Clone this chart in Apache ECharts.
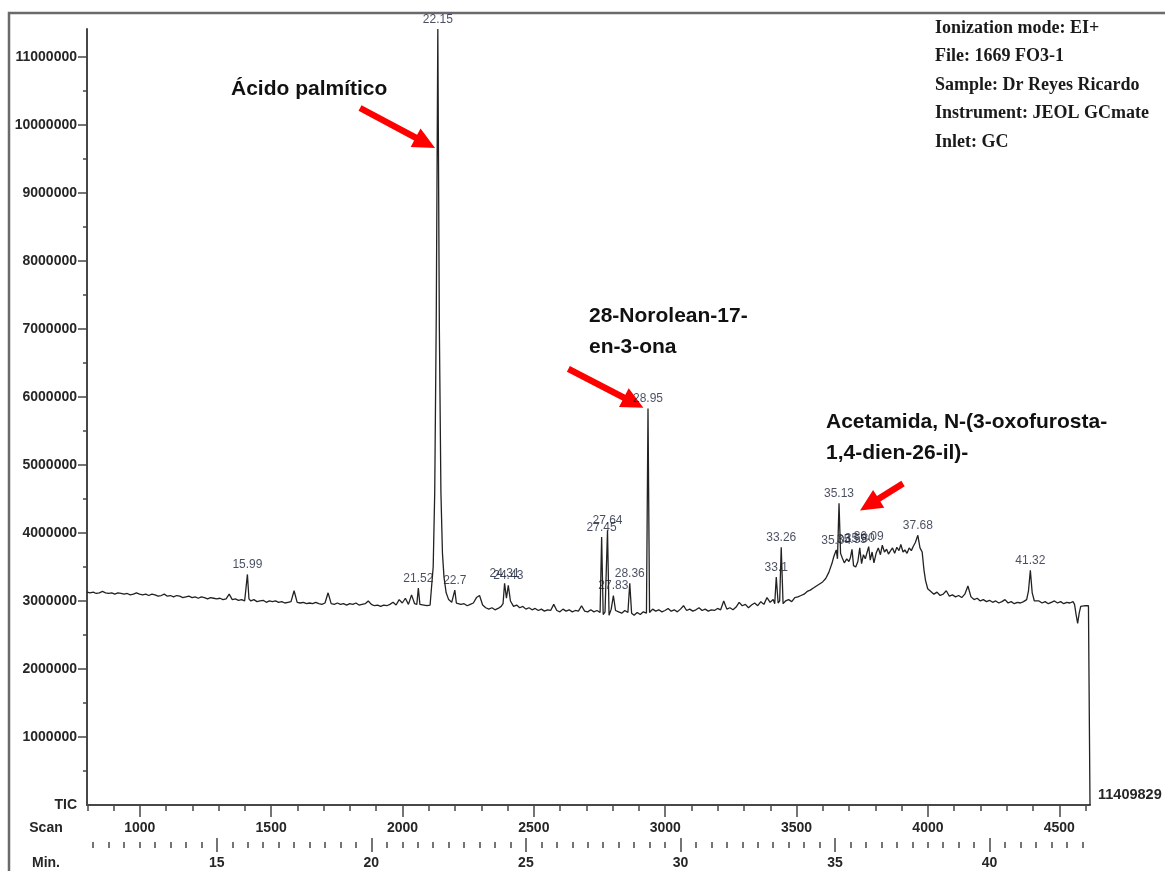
<!DOCTYPE html>
<html>
<head>
<meta charset="utf-8">
<title>TIC 1669 FO3-1</title>
<script src="https://cdn.jsdelivr.net/npm/echarts@6/dist/echarts.min.js"></script>
<style>
  html, body { margin: 0; padding: 0; background: #ffffff; }
  #chart { width: 1165px; height: 871px; }
</style>
</head>
<body>
<div id="chart"></div>
<script>
// Total ion current, full scale in counts
const fullScale = 11409829;

// Chromatogram trace: [retention time (min), intensity (millions of counts)]
const trace = [
  [10.8,3.13],[10.9,3.12],
  [11.0,3.13],[11.1,3.11],[11.2,3.12],[11.3,3.14],[11.4,3.12],[11.5,3.11],[11.6,3.12],[11.7,3.10],[11.8,3.12],[11.9,3.11],
  [12.0,3.10],[12.1,3.11],[12.2,3.09],[12.3,3.10],[12.4,3.12],[12.5,3.10],[12.6,3.09],[12.7,3.10],[12.8,3.08],[12.9,3.10],
  [13.0,3.09],[13.1,3.07],[13.2,3.08],[13.3,3.10],[13.4,3.07],[13.5,3.08],[13.6,3.06],[13.7,3.08],[13.8,3.07],[13.9,3.05],
  [14.0,3.06],[14.1,3.07],[14.2,3.05],[14.3,3.06],[14.4,3.04],[14.5,3.06],[14.6,3.05],[14.7,3.03],[14.8,3.05],[14.9,3.04],
  [15.0,3.03],[15.1,3.04],[15.2,3.02],[15.3,3.03],[15.4,3.10],[15.5,3.02],[15.6,3.03],[15.7,3.01],[15.8,3.02],[15.9,3.00],
  [15.95,3.02],[15.99,3.39],[16.04,3.03],
  [16.1,3.00],[16.2,3.02],[16.3,2.99],[16.4,3.00],[16.5,3.01],[16.6,2.98],[16.7,3.00],[16.8,2.99],[16.9,3.00],
  [17.0,2.98],[17.1,2.99],[17.2,2.97],[17.3,2.98],[17.4,2.99],[17.5,3.15],[17.6,2.98],[17.7,2.97],[17.8,2.98],[17.9,2.96],
  [18.0,2.97],[18.1,2.96],[18.2,2.98],[18.3,2.96],[18.4,2.95],[18.5,2.97],[18.6,3.12],[18.7,2.96],[18.8,2.95],[18.9,2.97],
  [19.0,2.95],[19.1,2.96],[19.2,2.94],[19.3,2.96],[19.4,2.95],[19.5,2.97],[19.6,2.94],[19.7,2.95],[19.8,2.96],[19.9,3.00],
  [20.0,2.95],[20.1,2.93],[20.2,2.94],[20.3,2.92],[20.4,2.94],[20.5,2.93],[20.6,2.95],[20.7,2.98],[20.8,2.94],[20.9,3.02],
  [21.0,2.97],[21.1,3.04],[21.2,2.95],[21.3,3.09],[21.4,2.96],[21.47,2.95],[21.52,3.19],[21.57,2.95],[21.7,2.94],[21.8,2.93],[21.9,2.94],
  [21.96,2.95],[22.0,3.5],[22.05,4.6],[22.1,7.2],[22.15,11.409829],[22.2,7.0],[22.25,4.6],[22.3,3.7],[22.35,3.35],[22.42,3.12],
  [22.5,3.02],[22.6,2.98],[22.65,2.96],[22.7,3.16],[22.75,2.97],[22.8,2.96],[22.9,2.95],
  [23.0,2.96],[23.1,2.93],[23.2,2.95],[23.3,2.97],[23.4,3.05],[23.5,3.08],[23.6,2.94],[23.7,2.90],[23.8,2.88],[23.9,2.90],
  [24.0,2.87],[24.1,2.89],[24.2,2.92],[24.26,2.96],[24.31,3.26],[24.37,3.04],[24.43,3.23],[24.5,3.00],[24.6,2.92],[24.7,2.94],[24.8,2.90],[24.9,2.92],
  [25.0,2.88],[25.1,2.90],[25.2,2.87],[25.3,2.89],[25.4,2.86],[25.5,2.88],[25.6,2.85],[25.7,2.87],[25.8,2.86],[25.9,2.95],
  [26.0,2.86],[26.1,2.84],[26.2,2.88],[26.3,2.85],[26.4,2.87],[26.5,2.84],[26.6,2.86],[26.7,2.85],[26.8,2.93],[26.9,2.85],
  [27.0,2.84],[27.1,2.87],[27.2,2.84],[27.3,2.86],[27.4,2.83],[27.45,3.94],[27.5,2.80],[27.56,2.84],[27.6,2.82],[27.64,4.04],
  [27.69,2.79],[27.76,2.88],[27.83,3.08],[27.9,2.86],
  [28.0,2.84],[28.1,2.82],[28.2,2.86],[28.3,2.83],[28.36,3.26],[28.42,2.82],[28.5,2.79],[28.6,2.83],[28.7,2.80],[28.8,2.84],
  [28.9,2.82],[28.95,5.83],[29.0,2.83],
  [29.1,2.88],[29.2,2.85],[29.3,2.87],[29.4,2.84],[29.5,2.86],[29.6,2.89],[29.7,2.85],[29.8,2.87],[29.9,2.84],
  [30.0,2.88],[30.1,2.93],[30.2,2.86],[30.3,2.88],[30.4,2.85],[30.5,2.87],[30.6,2.90],[30.7,2.86],[30.8,2.88],[30.9,2.85],
  [31.0,2.87],[31.1,2.86],[31.2,2.89],[31.3,2.87],[31.4,3.00],[31.5,2.88],[31.6,2.90],[31.7,2.87],[31.8,2.91],[31.9,2.98],
  [32.0,2.93],[32.1,2.95],[32.2,2.90],[32.3,2.94],[32.4,2.97],[32.5,2.93],[32.6,2.99],[32.7,2.95],[32.8,3.05],[32.9,2.98],
  [33.0,3.02],[33.05,2.96],[33.1,3.35],[33.16,2.97],[33.21,3.00],[33.26,3.79],[33.32,2.96],[33.4,3.00],[33.5,3.02],[33.6,2.99],
  [33.7,3.05],[33.8,3.06],[33.9,3.08],
  [34.0,3.10],[34.1,3.14],[34.2,3.16],[34.3,3.19],[34.4,3.22],[34.5,3.25],[34.6,3.28],[34.7,3.33],[34.8,3.42],[34.9,3.55],[34.96,3.65],
  [35.04,3.75],[35.08,3.62],[35.13,4.435],[35.18,3.70],[35.23,3.64],[35.3,3.56],[35.38,3.62],[35.45,3.58],[35.5,3.64],[35.55,3.76],
  [35.6,3.52],[35.67,3.50],[35.74,3.58],[35.8,3.78],[35.86,3.55],[35.92,3.68],[35.98,3.62],[36.04,3.60],[36.09,3.80],[36.14,3.60],
  [36.2,3.72],[36.26,3.56],[36.33,3.70],[36.4,3.78],[36.47,3.68],[36.53,3.82],[36.6,3.72],[36.67,3.76],[36.73,3.69],[36.8,3.74],
  [36.86,3.78],[36.93,3.70],[37.0,3.79],[37.07,3.74],[37.13,3.83],[37.2,3.72],[37.26,3.75],[37.33,3.70],[37.4,3.78],[37.47,3.74],
  [37.53,3.80],[37.6,3.86],[37.68,3.965],[37.75,3.78],[37.82,3.72],[37.88,3.45],[37.93,3.30],
  [38.0,3.18],[38.1,3.14],[38.2,3.10],[38.3,3.13],[38.4,3.08],[38.5,3.10],[38.6,3.15],[38.7,3.07],[38.8,3.09],[38.9,3.06],
  [39.0,3.08],[39.1,3.05],[39.2,3.10],[39.3,3.22],[39.4,3.06],[39.5,3.02],[39.6,3.04],[39.7,3.00],[39.8,3.02],[39.9,2.99],
  [40.0,3.01],[40.1,2.98],[40.2,3.00],[40.3,2.97],[40.4,2.99],[40.5,3.02],[40.6,2.97],[40.7,2.99],[40.8,2.96],[40.9,2.98],
  [41.0,2.97],[41.1,2.99],[41.2,3.02],[41.26,3.15],[41.32,3.45],[41.38,3.12],[41.45,3.00],[41.5,2.98],[41.6,3.00],[41.7,2.97],
  [41.8,2.99],[41.9,2.96],[42.0,2.98],[42.1,3.00],[42.2,2.97],[42.3,2.99],[42.4,2.96],[42.5,2.98],[42.6,2.97],[42.7,2.99],
  [42.75,2.95],[42.8,2.80],[42.85,2.67],[42.9,2.82],[42.95,2.92],[43.0,2.93],[43.1,2.93],[43.2,2.93],[43.25,2.93],[43.25,0]
];

// Peaks annotated with their retention time
const peakTimes  = [15.99, 21.52, 22.15, 22.7, 24.31, 24.43, 27.45, 27.64, 27.83, 28.36, 28.95, 33.1, 33.26, 35.04, 35.13, 35.55, 35.8, 36.09, 37.68, 41.32];
const peakLabels = ['15.99','21.52','22.15','22.7','24.31','24.43','27.45','27.64','27.83','28.36','28.95','33.1','33.26','35.04','35.13','35.55','35.80','36.09','37.68','41.32'];

// Axis ranges and tick labels
const timeRange = [10.8, 43.25];      // minutes
const scanRange = [799, 4617];        // scan number
const scanMajor = [1000, 1500, 2000, 2500, 3000, 3500, 4000, 4500];
const minMajor = [15, 20, 25, 30, 35, 40];
const intensityMajor = [1, 2, 3, 4, 5, 6, 7, 8, 9, 10, 11];   // millions

// Acquisition details
const infoLines = [
  'Ionization mode: EI+',
  'File: 1669 FO3-1',
  'Sample: Dr Reyes Ricardo',
  'Instrument: JEOL GCmate',
  'Inlet: GC'
];

// Compound annotations with arrows pointing at their peaks
const compounds = [
  { lines: ['Ácido palmítico'], x: 231, y: 89, tip: [22.06, 9.66], tail: [-75, -40] },
  { lines: ['28-Norolean-17-', 'en-3-ona'], x: 589, y: 316, tip: [28.8, 5.84], tail: [-75, -39] },
  { lines: ['Acetamida, N-(3-oxofurosta-', '1,4-dien-26-il)-'], x: 826, y: 422, tip: [35.81, 4.33], tail: [43, -27] }
];

const AXIS = '#474747';
const TEXT = '#262626';
const SANS = '"Liberation Sans", Arial, Helvetica, sans-serif';
const SERIF = '"Liberation Serif", "Times New Roman", serif';

// Minor tick positions
const scanMinor = [];
for (let s = 800; s <= 4600; s += 100) if (s % 500 !== 0) scanMinor.push(s);
const minMinor = [];
for (let m = 11; m <= 43; m += 0.5) if (m % 5 !== 0) minMinor.push(m);
const intensityMinor = [];
for (let v = 0.5; v < 11.4; v += 1) intensityMinor.push(v);

const peakPoints = peakTimes.map((t, i) => {
  const p = trace.find(q => q[0] === t);
  return { value: p, labelText: peakLabels[i] };
});

const chart = echarts.init(document.getElementById('chart'), null, { renderer: 'canvas' });

const labelFont = { fontFamily: SANS, fontWeight: 'bold', fontSize: 14, color: TEXT };
const plainNumber = v => String(v);

chart.setOption({
  animation: false,
  backgroundColor: '#ffffff',
  grid: { left: 87, top: 29, width: 1003, height: 776, containLabel: false, outerBoundsMode: 'none' },
  xAxis: [
    { type: 'value', min: timeRange[0], max: timeRange[1], show: false },
    { // scan axis, minor ticks and base line
      type: 'value', min: scanRange[0], max: scanRange[1], position: 'bottom', offset: 0,
      axisLine: { show: true, onZero: false, lineStyle: { color: AXIS, width: 2 } },
      axisTick: { show: true, customValues: scanMinor, length: 6, lineStyle: { color: AXIS, width: 1.5 } },
      axisLabel: { show: false }, splitLine: { show: false }
    },
    { // scan axis, major ticks and labels
      type: 'value', min: scanRange[0], max: scanRange[1], position: 'bottom', offset: 0,
      axisLine: { show: false },
      axisTick: { show: true, customValues: scanMajor, length: 12, lineStyle: { color: AXIS, width: 1.5 } },
      axisLabel: Object.assign({ show: true, customValues: scanMajor, margin: 16, formatter: plainNumber }, labelFont),
      splitLine: { show: false }
    },
    { // minutes, minor ticks
      type: 'value', min: timeRange[0], max: timeRange[1], position: 'bottom', offset: 37,
      axisLine: { show: false },
      axisTick: { show: true, customValues: minMinor, length: 6, lineStyle: { color: AXIS, width: 1.5 } },
      axisLabel: { show: false }, splitLine: { show: false }
    },
    { // minutes, major ticks and labels
      type: 'value', min: timeRange[0], max: timeRange[1], position: 'bottom', offset: 33,
      axisLine: { show: false },
      axisTick: { show: true, customValues: minMajor, length: 14, lineStyle: { color: AXIS, width: 1.5 } },
      axisLabel: Object.assign({ show: true, customValues: minMajor, margin: 18, formatter: plainNumber }, labelFont),
      splitLine: { show: false }
    }
  ],
  yAxis: [
    {
      type: 'value', min: 0, max: fullScale / 1e6, position: 'left',
      axisLine: { show: true, onZero: false, lineStyle: { color: AXIS, width: 2 } },
      axisTick: { show: true, customValues: intensityMajor, length: 9, lineStyle: { color: AXIS, width: 1.5 } },
      axisLabel: Object.assign({
        show: true, customValues: [0].concat(intensityMajor), margin: 10,
        formatter: v => v === 0 ? 'TIC' : String(Math.round(v * 1e6))
      }, labelFont),
      splitLine: { show: false }
    },
    {
      type: 'value', min: 0, max: fullScale / 1e6, position: 'left',
      axisLine: { show: false },
      axisTick: { show: true, customValues: intensityMinor, length: 4, lineStyle: { color: AXIS, width: 1.5 } },
      axisLabel: { show: false }, splitLine: { show: false }
    }
  ],
  series: [
    {
      type: 'line', xAxisIndex: 0, yAxisIndex: 0, data: trace,
      showSymbol: false, symbol: 'none', clip: false,
      lineStyle: { color: '#222222', width: 1.3 }
    },
    {
      type: 'scatter', xAxisIndex: 0, yAxisIndex: 0, data: peakPoints,
      symbolSize: 1, itemStyle: { color: 'rgba(0,0,0,0)' }, silent: true,
      label: {
        show: true, position: 'top', distance: 3,
        formatter: p => p.data.labelText,
        fontFamily: SANS, fontSize: 12, color: '#1a2238'
      },
      labelLayout: { hideOverlap: false }
    }
  ]
});

// Annotations drawn once the axes are laid out
const graphics = [];

// outer frame
graphics.push({
  type: 'polyline', silent: true,
  shape: { points: [[9, 871], [9, 13], [1165, 13]] },
  style: { stroke: '#6a6a6a', lineWidth: 2.5, fill: null }
});

// axis row captions
graphics.push({ type: 'text', x: 46, y: 828, style: { text: 'Scan', fontFamily: SANS, fontWeight: 'bold', fontSize: 14, fill: TEXT, align: 'center', verticalAlign: 'middle' } });
graphics.push({ type: 'text', x: 46, y: 863, style: { text: 'Min.', fontFamily: SANS, fontWeight: 'bold', fontSize: 14, fill: TEXT, align: 'center', verticalAlign: 'middle' } });

// full-scale value at the bottom right
graphics.push({ type: 'text', x: 1098, y: 795, style: { text: String(fullScale), fontFamily: SANS, fontWeight: 'bold', fontSize: 14.5, fill: TEXT, align: 'left', verticalAlign: 'middle' } });

// acquisition details
infoLines.forEach((t, i) => {
  graphics.push({ type: 'text', x: 935, y: 28 + i * 28.5, style: { text: t, fontFamily: SERIF, fontWeight: 'bold', fontSize: 18, fill: '#1a1a1a', align: 'left', verticalAlign: 'middle' } });
});

// compound names and red arrows
compounds.forEach(c => {
  c.lines.forEach((t, i) => {
    graphics.push({ type: 'text', x: c.x, y: c.y + i * 31, style: { text: t, fontFamily: SANS, fontWeight: 'bold', fontSize: 21, fill: '#111111', align: 'left', verticalAlign: 'middle' } });
  });
  const tip = chart.convertToPixel({ xAxisIndex: 0, yAxisIndex: 0 }, c.tip);
  const tail = [tip[0] + c.tail[0], tip[1] + c.tail[1]];
  const dx = tip[0] - tail[0], dy = tip[1] - tail[1];
  const len = Math.sqrt(dx * dx + dy * dy);
  const ux = dx / len, uy = dy / len;
  const px = -uy, py = ux;
  const w = 3.2, L = 22, H = 10.5;
  const bx = tip[0] - ux * L, by = tip[1] - uy * L;
  graphics.push({
    type: 'polygon', silent: true,
    shape: { points: [
      [tail[0] + px * w, tail[1] + py * w],
      [bx + px * w, by + py * w],
      [bx + px * H, by + py * H],
      [tip[0], tip[1]],
      [bx - px * H, by - py * H],
      [bx - px * w, by - py * w],
      [tail[0] - px * w, tail[1] - py * w]
    ] },
    style: { fill: '#ff0000', stroke: null }
  });
});

chart.setOption({ graphic: { elements: graphics } });
</script>
</body>
</html>
